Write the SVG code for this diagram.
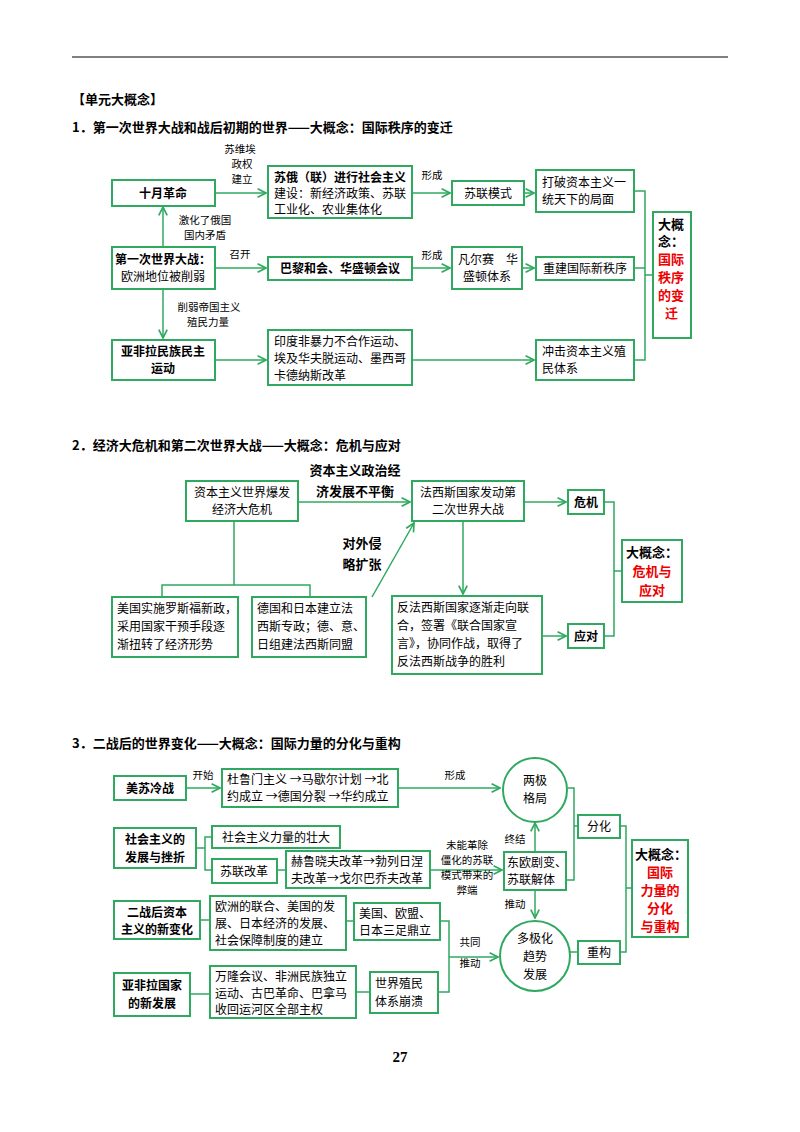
<svg xmlns="http://www.w3.org/2000/svg" width="800" height="1132" viewBox="0 0 800 1132">
<defs>
<marker id="ah" viewBox="0 0 10 10" refX="9" refY="5" markerWidth="7" markerHeight="7" orient="auto-start-reverse"><path d="M1,1 L9,5 L1,9" fill="none" stroke="#2fa860" stroke-width="1.6"/></marker>
</defs>
<style>
.b{fill:#fff;stroke:#2fa860;stroke-width:2}
.c{fill:none;stroke:#2fa860;stroke-width:1.5}
.a{marker-end:url(#ah)}
text{font-family:"Noto Sans CJK SC","Liberation Serif",serif;font-size:12px;fill:#000}
.h{font-weight:bold;font-size:13px}
.l{font-size:10.5px;font-family:"Noto Sans CJK SC",serif}
.bd{font-weight:bold}
.r{fill:#e00;font-weight:bold;font-size:13px}
.k{font-weight:bold;font-size:13px}
</style>
<rect width="800" height="1132" fill="#fff"/>
<line x1="72" y1="57" x2="728" y2="57" stroke="#000" stroke-width="1"/>
<text x="72" y="104" class="h">【单元大概念】</text>
<text x="72" y="132" class="h">1．第一次世界大战和战后初期的世界——大概念：国际秩序的变迁</text>
<text x="72" y="450" class="h">2．经济大危机和第二次世界大战——大概念：危机与应对</text>
<text x="72" y="748" class="h">3．二战后的世界变化——大概念：国际力量的分化与重构</text>
<text x="400" y="1062" class="h" text-anchor="middle" font-family="Liberation Serif" style="font-family:'Liberation Serif',serif;font-size:15px">27</text>

<g id="connectors">
<!-- section 1 -->
<path class="c a" d="M215,193 H266"/>
<path class="c a" d="M412,193 H450"/>
<path class="c a" d="M524,193 H534"/>
<path class="c a" d="M215,268 H266"/>
<path class="c a" d="M412,268 H450"/>
<path class="c a" d="M522,268 H534"/>
<path class="c a" d="M163,247 V207"/>
<path class="c a" d="M163,289 V338"/>
<path class="c a" d="M215,360 H266"/>
<path class="c a" d="M412,360 H534"/>
<path class="c" d="M634,191 H645 V360 H634 M634,268 H645 M645,275 H653"/>
<!-- section 2 -->
<path class="c a" d="M298,502 H410"/>
<path class="c a" d="M524,502 H566"/>
<path class="c" d="M234,521 V585 M162,597 V585 H310 V597"/>
<path class="c a" d="M372,597 L414,523"/>
<path class="c a" d="M463,521 V594"/>
<path class="c a" d="M542,636 H566"/>
<path class="c" d="M604,502 H614 V636 H604 M614,571 H622"/>
<!-- section 3 -->
<path class="c a" d="M186,788 H220"/>
<path class="c a" d="M398,788 H500"/>
<path class="c" d="M196,848 H205 V837 H212 M205,848 V870 H212"/>
<path class="c" d="M277,870 H286"/>
<path class="c a" d="M430,870 H502"/>
<path class="c a" d="M535,852 V823"/>
<path class="c a" d="M535,890 V918"/>
<path class="c" d="M200,920 H210 M346,921 H354 M190,994 H210 M356,992 H370"/>
<path class="c" d="M440,921 H449 V992 H438"/>
<path class="c a" d="M449,957 H498"/>
<path class="c" d="M568,788 H574 V880 H566 M574,826 H578"/>
<path class="c" d="M570,952 H578"/>
<path class="c" d="M620,826 H626 V952 H620 M626,888 H632"/>
</g>

<g id="labels1">
<text x="240" y="153" class="l" text-anchor="middle">苏维埃</text>
<text x="242" y="168" class="l" text-anchor="middle">政权</text>
<text x="242" y="183" class="l" text-anchor="middle">建立</text>
<text x="432" y="179" class="l" text-anchor="middle">形成</text>
<text x="240" y="258" class="l" text-anchor="middle">召开</text>
<text x="432" y="259" class="l" text-anchor="middle">形成</text>
<text x="205" y="224" class="l" text-anchor="middle">激化了俄国</text>
<text x="205" y="239" class="l" text-anchor="middle">国内矛盾</text>
<text x="209" y="311" class="l" text-anchor="middle">削弱帝国主义</text>
<text x="208" y="326" class="l" text-anchor="middle">殖民力量</text>
</g>
<g id="n1a"><rect class="b" x="112" y="180" width="103" height="26"/><text x="163" y="198" text-anchor="middle" class="bd">十月革命</text></g>
<g id="n1b"><rect class="b" x="268" y="166" width="144" height="52"/><text x="274" y="182" class="bd">苏俄（联）进行社会主义</text><text x="274" y="198">建设：新经济政策、苏联</text><text x="274" y="214">工业化、农业集体化</text></g>
<g id="n1c"><rect class="b" x="452" y="181" width="72" height="24"/><text x="488" y="198" text-anchor="middle">苏联模式</text></g>
<g id="n1d"><rect class="b" x="536" y="170" width="98" height="42"/><text x="542" y="187">打破资本主义一</text><text x="542" y="204">统天下的局面</text></g>
<g id="n1e"><rect class="b" x="653" y="212" width="38" height="126"/><text x="658" y="229" class="k">大概</text><text x="658" y="246" class="k">念：</text><text x="658" y="264" class="r">国际</text><text x="658" y="282" class="r">秩序</text><text x="658" y="300" class="r">的变</text><text x="665" y="318" class="r">迁</text></g>
<g id="n1f"><rect class="b" x="112" y="247" width="103" height="42"/><text x="163" y="264" text-anchor="middle" class="bd">第一次世界大战：</text><text x="163" y="281" text-anchor="middle">欧洲地位被削弱</text></g>
<g id="n1g"><rect class="b" x="268" y="257" width="144" height="23"/><text x="340" y="273" text-anchor="middle" class="bd">巴黎和会、华盛顿会议</text></g>
<g id="n1h"><rect class="b" x="452" y="247" width="70" height="42"/><text x="458" y="264">凡尔赛　华</text><text x="487" y="281" text-anchor="middle">盛顿体系</text></g>
<g id="n1i"><rect class="b" x="536" y="257" width="98" height="23"/><text x="585" y="273" text-anchor="middle">重建国际新秩序</text></g>
<g id="n1j"><rect class="b" x="112" y="340" width="103" height="40"/><text x="163" y="356" text-anchor="middle" class="bd">亚非拉民族民主</text><text x="163" y="373" text-anchor="middle" class="bd">运动</text></g>
<g id="n1k"><rect class="b" x="268" y="330" width="144" height="55"/><text x="274" y="346">印度非暴力不合作运动、</text><text x="274" y="363">埃及华夫脱运动、墨西哥</text><text x="274" y="380">卡德纳斯改革</text></g>
<g id="n1l"><rect class="b" x="536" y="340" width="98" height="40"/><text x="542" y="356">冲击资本主义殖</text><text x="542" y="373">民体系</text></g>

<g id="labels2">
<text x="355" y="475" text-anchor="middle" class="k">资本主义政治经</text>
<text x="355" y="496" text-anchor="middle" class="k">济发展不平衡</text>
<text x="362" y="548" text-anchor="middle" class="k">对外侵</text>
<text x="362" y="569" text-anchor="middle" class="k">略扩张</text>
</g>
<g id="n2a"><rect class="b" x="186" y="481" width="112" height="40"/><text x="242" y="497" text-anchor="middle">资本主义世界爆发</text><text x="242" y="514" text-anchor="middle">经济大危机</text></g>
<g id="n2b"><rect class="b" x="412" y="481" width="112" height="40"/><text x="468" y="497" text-anchor="middle">法西斯国家发动第</text><text x="468" y="514" text-anchor="middle">二次世界大战</text></g>
<g id="n2c"><rect class="b" x="568" y="490" width="36" height="24"/><text x="586" y="507" text-anchor="middle" class="bd">危机</text></g>
<g id="n2d"><rect class="b" x="622" y="540" width="60" height="62"/><text x="626" y="557" class="k">大概念：</text><text x="652" y="576" text-anchor="middle" class="r">危机与</text><text x="652" y="595" text-anchor="middle" class="r">应对</text></g>
<g id="n2e"><rect class="b" x="112" y="597" width="126" height="60"/><text x="117" y="613">美国实施罗斯福新政，</text><text x="117" y="631">采用国家干预手段逐</text><text x="117" y="649">渐扭转了经济形势</text></g>
<g id="n2f"><rect class="b" x="252" y="597" width="114" height="60"/><text x="257" y="613">德国和日本建立法</text><text x="257" y="631">西斯专政；德、意、</text><text x="257" y="649">日组建法西斯同盟</text></g>
<g id="n2g"><rect class="b" x="392" y="596" width="150" height="78"/><text x="397" y="612">反法西斯国家逐渐走向联</text><text x="397" y="630">合，签署《联合国家宣</text><text x="397" y="648">言》，协同作战，取得了</text><text x="397" y="666">反法西斯战争的胜利</text></g>
<g id="n2h"><rect class="b" x="568" y="624" width="36" height="24"/><text x="586" y="641" text-anchor="middle" class="bd">应对</text></g>

<g id="labels3">
<text x="203" y="779" class="l" text-anchor="middle">开始</text>
<text x="455" y="779" class="l" text-anchor="middle">形成</text>
<text x="467" y="849" class="l" text-anchor="middle">未能革除</text>
<text x="467" y="864" class="l" text-anchor="middle">僵化的苏联</text>
<text x="467" y="879" class="l" text-anchor="middle">模式带来的</text>
<text x="467" y="894" class="l" text-anchor="middle">弊端</text>
<text x="515" y="843" class="l" text-anchor="middle">终结</text>
<text x="515" y="908" class="l" text-anchor="middle">推动</text>
<text x="470" y="946" class="l" text-anchor="middle">共同</text>
<text x="470" y="967" class="l" text-anchor="middle">推动</text>
</g>
<g id="n3a"><rect class="b" x="114" y="776" width="72" height="24"/><text x="150" y="793" text-anchor="middle" class="bd">美苏冷战</text></g>
<g id="n3b"><rect class="b" x="222" y="769" width="176" height="38"/><text x="227" y="784">杜鲁门主义 →马歇尔计划 →北</text><text x="227" y="801">约成立 →德国分裂 →华约成立</text></g>
<g id="n3c"><circle class="b" cx="535" cy="790" r="32"/><text x="535" y="785" text-anchor="middle">两极</text><text x="535" y="803" text-anchor="middle">格局</text></g>
<g id="n3d"><rect class="b" x="114" y="828" width="82" height="40"/><text x="155" y="844" text-anchor="middle" class="bd">社会主义的</text><text x="155" y="862" text-anchor="middle" class="bd">发展与挫折</text></g>
<g id="n3e"><rect class="b" x="212" y="826" width="128" height="22"/><text x="276" y="842" text-anchor="middle">社会主义力量的壮大</text></g>
<g id="n3f"><rect class="b" x="212" y="859" width="65" height="24"/><text x="244" y="876" text-anchor="middle">苏联改革</text></g>
<g id="n3g"><rect class="b" x="286" y="851" width="144" height="37"/><text x="291" y="866">赫鲁晓夫改革→勃列日涅</text><text x="291" y="883">夫改革→戈尔巴乔夫改革</text></g>
<g id="n3h"><rect class="b" x="504" y="852" width="62" height="38"/><text x="507" y="867">东欧剧变、</text><text x="507" y="884">苏联解体</text></g>
<g id="n3i"><rect class="b" x="578" y="815" width="42" height="23"/><text x="599" y="831" text-anchor="middle">分化</text></g>
<g id="n3j"><rect class="b" x="632" y="840" width="56" height="97"/><text x="635" y="859" class="k">大概念：</text><text x="660" y="877" text-anchor="middle" class="r">国际</text><text x="660" y="895" text-anchor="middle" class="r">力量的</text><text x="660" y="913" text-anchor="middle" class="r">分化</text><text x="660" y="931" text-anchor="middle" class="r">与重构</text></g>
<g id="n3k"><rect class="b" x="114" y="901" width="86" height="38"/><text x="157" y="917" text-anchor="middle" class="bd">二战后资本</text><text x="157" y="934" text-anchor="middle" class="bd">主义的新变化</text></g>
<g id="n3l"><rect class="b" x="210" y="896" width="136" height="54"/><text x="215" y="911">欧洲的联合、美国的发</text><text x="215" y="928">展、日本经济的发展、</text><text x="215" y="945">社会保障制度的建立</text></g>
<g id="n3m"><rect class="b" x="354" y="903" width="86" height="37"/><text x="359" y="918">美国、欧盟、</text><text x="359" y="935">日本三足鼎立</text></g>
<g id="n3n"><circle class="b" cx="535" cy="956" r="35"/><text x="535" y="943" text-anchor="middle">多极化</text><text x="535" y="961" text-anchor="middle">趋势</text><text x="535" y="979" text-anchor="middle">发展</text></g>
<g id="n3o"><rect class="b" x="578" y="941" width="42" height="23"/><text x="599" y="957" text-anchor="middle">重构</text></g>
<g id="n3p"><rect class="b" x="114" y="973" width="76" height="43"/><text x="152" y="990" text-anchor="middle" class="bd">亚非拉国家</text><text x="152" y="1008" text-anchor="middle" class="bd">的新发展</text></g>
<g id="n3q"><rect class="b" x="210" y="966" width="146" height="52"/><text x="215" y="981">万隆会议、非洲民族独立</text><text x="215" y="998">运动、古巴革命、巴拿马</text><text x="215" y="1014">收回运河区全部主权</text></g>
<g id="n3r"><rect class="b" x="370" y="972" width="68" height="41"/><text x="375" y="988">世界殖民</text><text x="375" y="1006">体系崩溃</text></g>
</svg>
